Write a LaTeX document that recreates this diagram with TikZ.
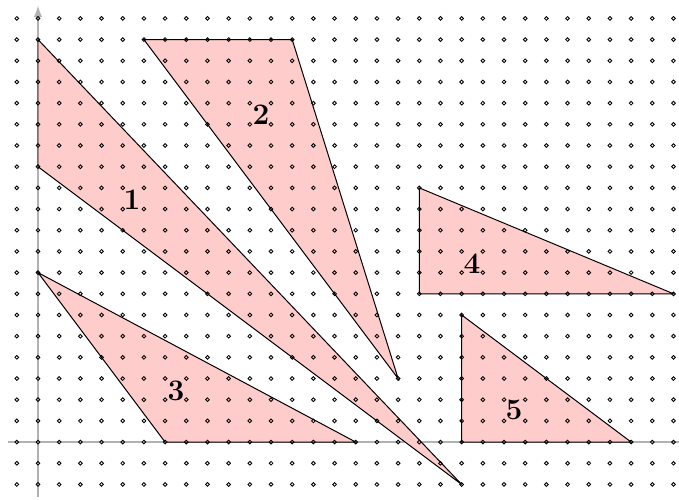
\documentclass[tikz,border=0pt]{standalone}
\begin{document}
\begin{tikzpicture}[x=0.3cm,y=0.3cm,
	axis/.style={gray!60,line width=0.6pt},
	piece/.style={draw=black,fill=red!20,line width=0.4pt},
	gridpt/.style={circle,draw=black,line width=0.35pt,inner sep=0,minimum size=1.5pt},
	lbl/.style={font=\large\bfseries}]
\useasboundingbox (-1.794,-2.69) rectangle (30.26,20.87);
\draw[axis] (-1.4,0) -- (30.3,0);
\draw[axis,-latex] (0,-2.6) -- (0,20.6);
\draw[piece] (0,19) -- (0,13) -- (20,-2) -- cycle;
\draw[piece] (5,19) -- (12,19) -- (17,3) -- cycle;
\draw[piece] (0,8) -- (6,0) -- (15,0) -- cycle;
\draw[piece] (18,12) -- (18,7) -- (30,7) -- cycle;
\draw[piece] (20,6) -- (20,0) -- (28,0) -- cycle;
\foreach \i in {-1,...,30}
	\foreach \j in {-2,...,20}
		\node[gridpt] at (\i,\j) {};
\node[lbl] (n1) at (4.44,11.43) {1};
\node[lbl] (n2) at (10.53,15.44) {2};
\node[lbl] (n3) at (6.52,2.41) {3};
\node[lbl] (n4) at (20.49,8.40) {4};
\node[lbl] (n5) at (22.47,1.51) {5};
\end{tikzpicture}
\end{document}
